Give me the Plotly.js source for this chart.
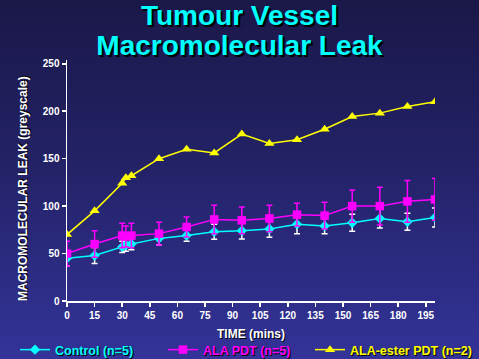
<!DOCTYPE html>
<html>
<head>
<meta charset="utf-8">
<script src="https://cdn.plot.ly/plotly-3.0.1.min.js"></script>
<style>
html, body { margin: 0; padding: 0; }
body { width: 479px; height: 359px; background: linear-gradient(to bottom, #1a1848 0%, #232266 45%, #333399 100%); overflow: hidden; }
#chart { width: 479px; height: 359px; }
</style>
</head>
<body>
<div id="chart"></div>
<script>
const times = [0, 15, 30, 32, 35, 50, 65, 80, 95, 110, 125, 140, 155, 170, 185, 200];
const controlMean = [45, 48, 57, 59, 60, 66, 69, 73, 74, 76, 81, 79, 82.5, 87, 83.5, 88];
const controlErr  = [8, 8.5, 6, 6.5, 6, 7, 6, 8, 8.7, 8.7, 10, 8, 9, 10, 9, 10];
const alaMean     = [50, 60, 69, 68, 69, 71, 78, 86, 85, 87, 91, 90, 100, 100, 105, 107];
const alaErr      = [13, 14, 13, 11, 13, 12, 10.5, 15, 14, 14, 12, 14, 17, 20, 22, 22];
const esterMean   = [70, 95, 124, 130, 132, 150, 160, 156, 176, 166, 170, 181, 194.5, 198, 205, 210];
const xTicks = [0, 15, 30, 45, 60, 75, 90, 105, 120, 135, 150, 165, 180, 195];
const yTicks = [0, 50, 100, 150, 200, 250];
const seriesNames = ['Control (n=5)', 'ALA PDT (n=5)', 'ALA-ester PDT (n=2)'];
const xTitle = 'TIME (mins)';
const yTitle = 'MACROMOLECULAR LEAK (greyscale)';

const CYAN = '#00ffff', MAG = '#ff00ff', YEL = '#ffff00';
const FONT = 'Liberation Sans, Arial, sans-serif';

const traces = [
  {
    x: times, y: controlMean, type: 'scatter', mode: 'lines+markers',
    name: '<span style="color:' + CYAN + '">' + seriesNames[0] + '</span>',
    legend: 'legend',
    line: {color: CYAN, width: 1.5},
    marker: {symbol: 'diamond', size: 8, color: CYAN},
    error_y: {type: 'data', array: controlErr, visible: true, color: '#ffffff', thickness: 1.5, width: 3}
  },
  {
    x: times, y: alaMean, type: 'scatter', mode: 'lines+markers',
    name: '<span style="color:' + MAG + '">' + seriesNames[1] + '</span>',
    legend: 'legend2',
    line: {color: MAG, width: 1.5},
    marker: {symbol: 'square', size: 8.5, color: MAG},
    error_y: {type: 'data', array: alaErr, visible: true, color: MAG, thickness: 1.5, width: 3}
  },
  {
    x: times, y: esterMean, type: 'scatter', mode: 'lines+markers',
    name: '<span style="color:' + YEL + '">' + seriesNames[2] + '</span>',
    legend: 'legend3',
    line: {color: YEL, width: 1.5},
    marker: {symbol: 'triangle-up', size: 9, color: YEL}
  }
];

const tickFont = {family: FONT, size: 10, color: '#ffffff', weight: 'bold'};
const axisTitleFont = {family: FONT, size: 12, color: '#ffffff', weight: 'bold', shadow: '1px 1px 0px #000000'};
const legendFont = {family: FONT, size: 12.5, color: '#ffffff', weight: 'bold', shadow: '1px 1px 0px #000000'};
function legendAt(px) {
  return {
    orientation: 'h',
    xref: 'container', yref: 'container',
    x: px / 479, xanchor: 'left',
    y: 1 - 350 / 359, yanchor: 'middle',
    bgcolor: 'rgba(0,0,0,0)', borderwidth: 0,
    font: legendFont
  };
}

const layout = {
  width: 479, height: 359,
  paper_bgcolor: 'rgba(0,0,0,0)',
  plot_bgcolor: 'rgba(0,0,0,0)',
  margin: {l: 67, r: 44, t: 60, b: 58, autoexpand: false},
  title: {
    text: '<span style="font-size:28px">Tumour Vessel</span><br><span style="font-size:28px">Macromolecular Leak</span>',
    font: {family: FONT, size: 23, color: CYAN, weight: 'bold', shadow: '2px 2px 0px #000000'},
    x: 0.5, xref: 'container', xanchor: 'center',
    y: 1 - 25 / 359, yref: 'container', yanchor: 'middle'
  },
  xaxis: {
    range: [0, 200],
    tickmode: 'array', tickvals: xTicks, ticktext: xTicks.map(String),
    showgrid: false, zeroline: false,
    showline: true, linecolor: '#ffffff', linewidth: 1.5,
    ticks: 'outside', ticklen: 4, tickcolor: '#ffffff', tickwidth: 1.5,
    tickfont: tickFont
  },
  yaxis: {
    range: [0, 254],
    tickmode: 'array', tickvals: yTicks, ticktext: yTicks.map(String),
    showgrid: false, zeroline: false,
    showline: true, linecolor: '#ffffff', linewidth: 1.5,
    ticks: 'outside', ticklen: 4, tickcolor: '#ffffff', tickwidth: 1.5,
    tickfont: tickFont
  },
  annotations: [
    {
      text: xTitle, showarrow: false,
      xref: 'paper', x: 0.5, xanchor: 'center',
      yref: 'paper', y: (301 - 334) / 241, yanchor: 'middle',
      font: axisTitleFont
    },
    {
      text: yTitle, showarrow: false, textangle: -90,
      xref: 'paper', x: (23 - 67) / 368, xanchor: 'center',
      yref: 'paper', y: (301 - 189) / 241, yanchor: 'middle',
      font: axisTitleFont
    }
  ],
  showlegend: true,
  legend: legendAt(15),
  legend2: legendAt(163),
  legend3: legendAt(310)
};

Plotly.newPlot('chart', traces, layout, {displayModeBar: false, staticPlot: true});
</script>
</body>
</html>
